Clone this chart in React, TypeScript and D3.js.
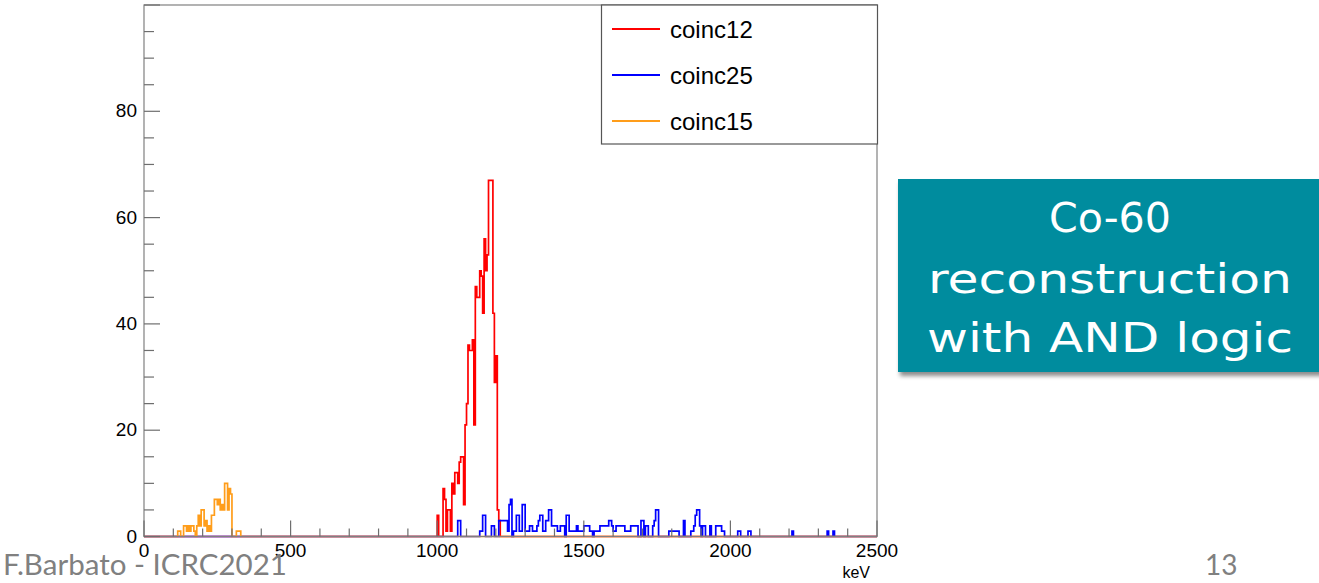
import React, { useRef, useEffect } from 'react';
import * as d3 from 'd3';

// ---- data (counts per 5 keV bin) ----
const BIN_WIDTH = 5;
const X_MAX = 2500;

const redStart = 1000;
const redCounts = [
  4, 0, 0, 0, 9, 7, 1, 5, 5, 1, 10, 8, 12, 12, 10, 14, 15, 15, 6, 21, 25, 36,
  35, 35, 37, 21, 47, 45, 45, 50, 49, 42, 56, 50, 53, 67, 67, 67, 42, 29, 34, 5, 3, 0,
];

const orangeStart = 110;
const orangeCounts = [
  0, 1, 1, 0, 0, 2, 2, 1, 2, 1, 2, 2, 1, 0, 2, 4, 2, 5, 5, 2, 3, 1, 2, 1, 4, 4,
  7, 7, 6, 7, 5, 6, 5, 10, 10, 5, 9, 8, 0, 0, 0, 1, 1, 1, 0,
];

const blueBins = [
  1070, 1075, 1145, 1150, 1155, 1160, 1185, 1190, 1210, 1215, 1220, 1225, 1230, 1235,
  1240, 1245, 1250, 1260, 1265, 1270, 1275, 1280, 1285, 1290, 1295, 1300, 1305, 1310,
  1315, 1320, 1325, 1330, 1335, 1340, 1345, 1350, 1355, 1360, 1365, 1370, 1375, 1380,
  1385, 1390, 1395, 1400, 1405, 1410, 1415, 1420, 1425, 1430, 1440, 1445, 1450, 1455,
  1460, 1465, 1470, 1475, 1480, 1485, 1490, 1495, 1500, 1505, 1510, 1515, 1520, 1525,
  1535, 1540, 1545, 1550, 1555, 1560, 1565, 1570, 1575, 1580, 1585, 1590, 1595, 1600,
  1605, 1610, 1615, 1620, 1625, 1630, 1635, 1640, 1645, 1650, 1655, 1660, 1665, 1670,
  1675, 1680, 1695, 1700, 1710, 1715, 1735, 1740, 1745, 1750, 1790, 1795, 1800, 1805,
  1810, 1815, 1820, 1840, 1865, 1870, 1875, 1880, 1885, 1890, 1895, 1905, 1910, 1930,
  1950, 1955, 1960, 1965, 1970, 1975, 2025, 2030, 2060, 2065, 2210, 2330, 2350,
];
const blueCounts = [
  3, 3, 1, 1, 4, 4, 2, 2, 3, 3, 3, 3, 3, 3,
  1, 6, 7, 1, 1, 4, 4, 1, 1, 6, 6, 1, 1, 1,
  2, 2, 1, 1, 1, 2, 3, 4, 4, 1, 1, 3, 3, 5,
  5, 2, 2, 2, 2, 1, 1, 2, 2, 2, 4, 4, 1, 1,
  1, 1, 1, 2, 1, 1, 1, 1, 2, 2, 2, 2, 1, 1,
  1, 1, 1, 1, 2, 2, 2, 2, 2, 2, 3, 3, 2, 1,
  1, 2, 2, 2, 2, 2, 2, 1, 1, 1, 1, 2, 2, 2,
  2, 2, 3, 3, 2, 2, 2, 3, 5, 5, 1, 1, 1, 1,
  1, 1, 1, 3, 1, 1, 2, 4, 5, 5, 2, 2, 2, 2,
  2, 2, 2, 2, 1, 1, 1, 1, 1, 1, 1, 1, 1,
];

const seriesNames = ['coinc12', 'coinc25', 'coinc15'];
const seriesColors = ['#ff0000', '#0000ff', '#ff9d1a'];

const xTicks = [0, 500, 1000, 1500, 2000, 2500];
const yTicks = [0, 20, 40, 60, 80];

const boxLines = ['Co-60', 'reconstruction', 'with AND logic'];

// full histogram over 0..X_MAX
function buildHist(starts: number[], counts: number[]) {
  const m = new Map<number, number>();
  starts.forEach((s, i) => m.set(s, counts[i]));
  const out: { x: number; y: number }[] = [];
  for (let x = 0; x <= X_MAX; x += BIN_WIDTH) out.push({ x, y: m.get(x) || 0 });
  return out;
}

const App = () => {
  const svgRef = useRef<SVGSVGElement>(null);

  useEffect(() => {
    const svg = d3.select(svgRef.current);
    svg.selectAll('*').remove();

    const W = 1319;
    const H = 583;
    const frame = { left: 144, right: 877, top: 5, bottom: 536.5 };

    svg.append('rect').attr('width', W).attr('height', H).attr('fill', '#ffffff');

    const defs = svg.append('defs');
    const f = defs.append('filter').attr('id', 'shadow').attr('x', '-5%').attr('y', '-5%').attr('width', '115%').attr('height', '120%');
    f.append('feDropShadow').attr('dx', 2).attr('dy', 4).attr('stdDeviation', 2).attr('flood-color', '#000').attr('flood-opacity', 0.45);

    const x = d3.scaleLinear().domain([0, X_MAX]).range([frame.left, frame.right]);
    const y = d3.scaleLinear().domain([0, 100]).range([frame.bottom, frame.top]);

    const font = '"Liberation Sans", Arial, Helvetica, sans-serif';

    // histograms
    const redStarts = redCounts.map((_, i) => redStart + i * BIN_WIDTH);
    const orangeStarts = orangeCounts.map((_, i) => orangeStart + i * BIN_WIDTH);
    const hists = [
      buildHist(redStarts, redCounts),
      buildHist(blueBins, blueCounts),
      buildHist(orangeStarts, orangeCounts),
    ];

    const line = d3.line<{ x: number; y: number }>()
      .x(d => x(d.x))
      .y(d => y(d.y))
      .curve(d3.curveStepAfter);

    hists.forEach((h, i) => {
      svg.append('path')
        .datum(h)
        .attr('d', line)
        .attr('fill', 'none')
        .attr('stroke', seriesColors[i])
        .attr('stroke-width', 1.7);
    });

    // frame
    svg.append('rect')
      .attr('x', frame.left).attr('y', frame.top)
      .attr('width', frame.right - frame.left).attr('height', frame.bottom - frame.top)
      .attr('fill', 'none').attr('stroke', '#808080').attr('stroke-width', 1.2);

    // x ticks (every 100 keV, major every 500)
    const g = svg.append('g').attr('stroke', '#6e6e6e').attr('stroke-width', 1.2);
    d3.range(0, X_MAX + 1, 100).forEach(v => {
      const major = v % 500 === 0;
      g.append('line')
        .attr('x1', x(v)).attr('x2', x(v))
        .attr('y1', frame.bottom).attr('y2', frame.bottom - (major ? 16 : 8));
    });
    // y ticks (every 5, major every 20)
    d3.range(0, 101, 5).forEach(v => {
      const major = v % 20 === 0;
      g.append('line')
        .attr('x1', frame.left).attr('x2', frame.left + (major ? 16 : 10))
        .attr('y1', y(v)).attr('y2', y(v));
    });

    svg.selectAll('.xlab').data(xTicks).enter().append('text')
      .attr('x', d => x(d)).attr('y', 557)
      .attr('text-anchor', 'middle')
      .style('font-family', font).style('font-size', '19px').attr('fill', '#000')
      .text(d => d);

    svg.selectAll('.ylab').data(yTicks).enter().append('text')
      .attr('x', 137).attr('y', d => y(d) + 6)
      .attr('text-anchor', 'end')
      .style('font-family', font).style('font-size', '19px').attr('fill', '#000')
      .text(d => d);

    svg.append('text')
      .attr('x', 870).attr('y', 578).attr('text-anchor', 'end')
      .style('font-family', font).style('font-size', '16px').attr('fill', '#000')
      .text('keV');

    // legend
    svg.append('rect')
      .attr('x', 601.5).attr('y', 5).attr('width', 276).attr('height', 139)
      .attr('fill', '#fff').attr('stroke', '#555').attr('stroke-width', 1.2);
    const legY = [29, 75, 121];
    seriesNames.forEach((name, i) => {
      svg.append('line')
        .attr('x1', 612).attr('x2', 660).attr('y1', legY[i]).attr('y2', legY[i])
        .attr('stroke', seriesColors[i]).attr('stroke-width', 2);
      svg.append('text')
        .attr('x', 670).attr('y', legY[i] + 9)
        .style('font-family', font).style('font-size', '24px').attr('fill', '#000')
        .text(name);
    });

    // teal callout box
    svg.append('rect')
      .attr('x', 898).attr('y', 179).attr('width', 440).attr('height', 193)
      .attr('fill', '#058c9e').attr('filter', 'url(#shadow)');
    const boxBase = [232, 293, 352];
    const boxWidths = [122, 364, 366];
    boxLines.forEach((t, i) => {
      svg.append('text')
        .attr('x', 1110).attr('y', boxBase[i])
        .attr('text-anchor', 'middle')
        .attr('textLength', boxWidths[i]).attr('lengthAdjust', 'spacingAndGlyphs')
        .style('font-family', '"DejaVu Sans", sans-serif').style('font-weight', 400)
        .style('font-size', '41px').attr('fill', '#ffffff')
        .text(t);
    });

    // footer
    svg.append('text')
      .attr('x', 3).attr('y', 575)
      .attr('textLength', 284).attr('lengthAdjust', 'spacingAndGlyphs')
      .style('font-family', 'Lato, "Open Sans", sans-serif').style('font-size', '28px')
      .attr('fill', '#808080')
      .text('F.Barbato - ICRC2021');
    svg.append('text')
      .attr('x', 1205).attr('y', 575)
      .style('font-family', 'Lato, "Open Sans", sans-serif').style('font-size', '28px')
      .attr('fill', '#808080')
      .text('13');
  }, []);

  return (
    <div style={{ position: 'absolute', left: 0, top: 0 }}>
      <svg ref={svgRef} width={1319} height={583} style={{ display: 'block' }} />
    </div>
  );
};

export default App;
